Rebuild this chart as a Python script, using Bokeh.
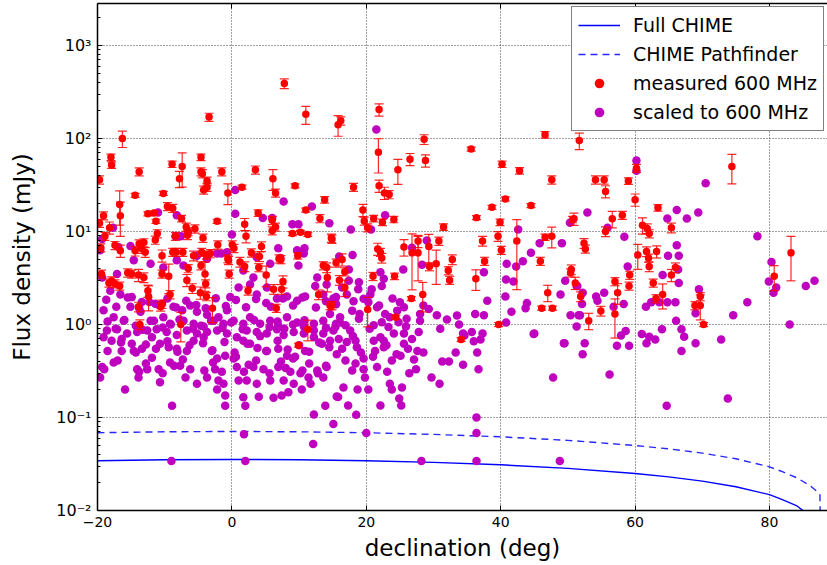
from bokeh.plotting import figure
from bokeh.models import (Range1d, FixedTicker, LinearAxis, CustomJSTickFormatter,
                          Legend, LegendItem, ColumnDataSource)
from bokeh.embed import file_html
from bokeh.resources import INLINE

# ---------------- sensitivity curves ----------------
full_dec = [-20, -10, 0, 10, 20, 30, 40, 50, 60, 65, 70, 75, 80, 82, 84, 86]
full_chime = [0.0343, 0.0351, 0.0354, 0.0351, 0.0343, 0.0329, 0.031, 0.0284, 0.025,
              0.023, 0.0207, 0.018, 0.0148, 0.013, 0.0113, 0.0088]
path_dec = [-20, -10, 0, 10, 20, 30, 40, 50, 60, 65, 70, 75, 80, 82, 84, 86, 87, 87.5, 87.6]
pathfinder = [0.0686, 0.0702, 0.0708, 0.0702, 0.0686, 0.0658, 0.062, 0.0568, 0.050,
              0.046, 0.0414, 0.036, 0.0295, 0.026, 0.0226, 0.0186, 0.0162, 0.0148, 0.005]

# ---------------- measured at 600 MHz (red, with error bars) ----------------
measured_dec = [
    -16.3, -3.4, 7.8, 11.0, 15.8, 16.2,
    -18.0, -17.9, -13.8, -8.9, -7.4, -4.6, -4.6, -4.4, -3.7, -1.5, 3.5, -7.8, -19.7, 6.1,
    21.9, 21.8, 24.7, 26.5, 28.8, 28.6, 35.6, 40.2, 42.8, 46.6, 51.7, 47.6,
    54.1, 55.4, 55.6, 59.0, 60.2, 60.0, 74.4,
    50.9, 56.6, 58.1, 55.6, 63.4, 65.4, 61.1, 61.8, 62.1,
    52.4, 52.6, 60.4, 61.7, 62.0, 63.2, 62.1, 66.0, 59.2, 65.4, 62.7, 59.1, 57.0, 57.4, 51.1, 51.9, 54.9, 64.1, 63.1,
    68.9, 69.7, 69.7, 80.7, 83.2, 70.2, 57.0, 53.1, 39.7, 34.1, 46.1, 47.7,
    18.1, 21.9, 22.7, 23.4, 19.5, 19.7, 20.2, 21.1, 22.4, 24.1, 14.9,
    21.7, 22.1, 22.3, 25.6, 26.8, 27.7, 27.7, 29.3, 30.8, 29.4, 30.4,
    32.8, 32.2, 32.4, 31.5, 36.4, 38.7, 40.7, 44.5, 39.9, 39.6, 40.1,
    37.3, 37.6, 36.3, 42.4, 46.6, 47.6, 45.9, 47.0, 50.5, 50.4, 50.7,
    24.2, 21.0, 28.4, 26.7, 24.4, 20.2,
    15.5, 16.4, 16.0, 16.8, 16.8, 14.9,
    -3.7, -4.2, -0.6, 1.5, 6.5, 9.4, 13.8, 11.0, 13.1, 14.8,
    9.0, 10.2, 11.3, 6.0, 6.0, 6.5, 3.9, 1.9, 2.1, -2.2, -7.5,
    -9.6, -8.8, -10.2, -14.4, -16.7, -16.6, -12.5, -11.6, -11.3, -19.1, -19.7, -18.9,
    -11.4, -11.1, -14.4, -13.5, -12.9, -13.8, -13.1, -16.6, -10.4,
    -8.4, -8.8, -8.3, -7.3, -6.5, -6.8, -6.6, -5.5, -4.3, -5.7, -4.5, -3.8, -3.2,
    -2.1, 0.05, 0.3, -0.5, -0.6, 1.2, 1.9, 2.9, 4.1, 4.4, 4.0, 7.0, 7.3, 5.1,
    6.2, 7.4, 7.6, 9.8, 13.6, 14.1, 14.2, 12.9, 14.6, 11.3, 9.9, 6.6, 2.4, -0.4,
    -2.9, -3.8, -4.0, -3.9, -4.7, -4.6, -6.7, -6.5, -5.9, -9.2, -9.4, -10.4,
    -12.4, -12.5, -10.6, -10.4, -13.9, -13.7, -7.6, -13.9, -13.1, -14.9, -15.5,
    -17.9, -17.4, -18.3, -16.7, -19.4, -19.5, -18.2, -17.4,
]
measured_flux = [
    100, 170, 390, 182, 141, 155,
    63, 52, 44, 53, 50, 63, 44, 42, 35, 44, 46, 37, 36, 37,
    205, 71, 46, 60, 58, 98, 77, 53, 45, 110, 95, 36,
    36, 36, 27, 35, 48, 22, 50,
    13.7, 13.7, 15, 10, 18, 11, 11.7, 10.8, 9.5,
    7.5, 6.5, 5.6, 6.1, 5.2, 6.1, 4.2, 4.1, 3.4, 3.4, 2.8, 2.6, 2.9, 2.2, 2.8, 2.0, 1.4, 2.1, 1.9,
    1.6, 1.6, 2.0, 3.3, 5.9, 1.0, 1.3, 1.1, 1.0, 0.69, 1.5, 1.5,
    30, 31, 26, 25, 17, 13, 11, 13.8, 12.6, 13.5, 8.3,
    6.5, 6.0, 5.2, 6.8, 5.9, 5.9, 7.9, 6.9, 7.9, 4.2, 4.5,
    5.0, 3.8, 3.0, 11.2, 14.1, 18.2, 22.4, 19.0, 12.6, 8.9, 6.3,
    7.9, 4.8, 3.1, 7.9, 8.7, 8.9, 4.8, 2.2, 3.9, 3.6, 13.5,
    3.3, 3.3, 2.1, 1.9, 1.2, 1.45,
    4.6, 5.0, 3.0, 3.7, 2.5, 1.6,
    30, 28, 26, 30, 26, 31, 22, 17, 13.8, 8.5,
    9.5, 9.8, 9.3, 13.2, 10.2, 11.2, 15.8, 12, 8.9, 12.9, 13.8,
    18.6, 17.8, 25.7, 24.5, 19.5, 14.8, 15.5, 15.8, 12.9, 14.8, 12.3, 8.9,
    8.1, 9.5, 6.2, 6.6, 6.0, 7.4, 7.6, 6.2, 5.5,
    8.9, 6.0, 6.0, 6.0, 10, 11.2, 9.1, 10.7, 8.5, 5.5, 6.0, 5.6, 5.8,
    7.2, 7.2, 6.6, 4.9, 5.1, 4.7, 4.2, 5.9, 5.4, 6.9, 4.1, 5.1, 5.0, 3.4,
    2.4, 2.4, 2.9, 5.5, 4.3, 4.1, 3.2, 2.1, 1.6, 0.89, 0.6, 1.5, 2.3, 3.5,
    1.5, 2.0, 3.5, 2.75, 2.2, 4.3, 3.0, 4.0, 2.45, 2.1, 3.3, 3.5,
    2.0, 2.3, 1.55, 1.66, 1.55, 1.0, 1.0, 3.4, 3.2, 3.5, 3.6,
    2.95, 2.75, 2.8, 2.6, 3.5, 6.7, 11, 7.1,
]
# fractional 1-sigma error of each measured point
measured_err = [
    0.2, 0.1, 0.12, 0.22, 0.25, 0.1,
    0.08, 0.08, 0.1, 0.08, 0.4, 0.08, 0.1, 0.1, 0.1, 0.1, 0.1, 0.2, 0.1, 0.25,
    0.15, 0.4, 0.3, 0.15, 0.15, 0.12, 0.05, 0.08, 0.08, 0.08, 0.2, 0.1,
    0.1, 0.1, 0.15, 0.08, 0.1, 0.15, 0.35,
    0.15, 0.2, 0.1, 0.12, 0.08, 0.12, 0.2, 0.12, 0.1,
    0.12, 0.1, 0.3, 0.12, 0.1, 0.15, 0.12, 0.12, 0.1, 0.15, 0.1, 0.1, 0.1, 0.25, 0.15, 0.12, 0.12, 0.3, 0.1,
    0.1, 0.3, 0.1, 0.3, 0.5, 0.05, 0.45, 0.2, 0.05, 0.05, 0.05, 0.05,
    0.1, 0.15, 0.15, 0.1, 0.15, 0.1, 0.1, 0.08, 0.08, 0.08, 0.1,
    0.15, 0.1, 0.12, 0.2, 0.6, 0.5, 0.15, 0.35, 0.1, 0.1, 0.4,
    0.12, 0.1, 0.1, 0.08, 0.05, 0.05, 0.05, 0.05, 0.08, 0.12, 0.1,
    0.12, 0.1, 0.25, 0.7, 0.08, 0.25, 0.1, 0.2, 0.12, 0.1, 0.08,
    0.08, 0.1, 0.35, 0.05, 0.05, 0.35,
    0.1, 0.15, 0.12, 0.1, 0.2, 0.1,
    0.1, 0.1, 0.25, 0.05, 0.1, 0.05, 0.08, 0.05, 0.1, 0.1,
    0.05, 0.05, 0.05, 0.1, 0.1, 0.1, 0.08, 0.15, 0.15, 0.05, 0.08,
    0.1, 0.1, 0.05, 0.05, 0.4, 0.4, 0.05, 0.05, 0.05, 0.1, 0.1, 0.1,
    0.1, 0.1, 0.12, 0.12, 0.12, 0.1, 0.1, 0.15, 0.15,
    0.1, 0.1, 0.1, 0.1, 0.1, 0.1, 0.1, 0.1, 0.1, 0.12, 0.1, 0.1, 0.1,
    0.1, 0.1, 0.1, 0.1, 0.1, 0.12, 0.12, 0.1, 0.12, 0.12, 0.1, 0.1, 0.1, 0.25,
    0.12, 0.12, 0.15, 0.08, 0.1, 0.12, 0.3, 0.12, 0.1, 0.25, 0.05, 0.1, 0.1, 0.1,
    0.3, 0.1, 0.35, 0.1, 0.15, 0.1, 0.15, 0.1, 0.12, 0.1, 0.35, 0.1,
    0.3, 0.15, 0.1, 0.1, 0.12, 0.12, 0.35, 0.15, 0.12, 0.1, 0.1,
    0.1, 0.1, 0.1, 0.1, 0.1, 0.1, 0.15, 0.1,
]

# ---------------- scaled to 600 MHz (magenta) ----------------
scaled_dec = [
    # high declination / bright
    21.5, 60.2, 60.2, 70.5, 52.9, 55.9, 58.4, 64.8, 66.2, 67.7, 69.4, 78.2, 66.2, 64.9, 66.5, 66.4, 58.9, 64.1,
    66.5, 51.4, 52.2, 54.2, 54.4, 55.4, 58.3, 56.8, 52.1, 62.4, 63.6, 64.8, 66.0, 61.6, 69.5, 76.7, 80.3, 79.9,
    81.0, 80.6, 85.4, 86.7, 83.0,
    51.3, 51.8, 52.5, 52.2, 56.2, 57.9, 58.6, 57.3, 59.1, 61.0, 61.7, 62.1, 63.0, 64.0, 66.1, 66.9, 67.3,
    66.9, 69.0, 69.0, 72.8, 74.6, 73.8, 64.7,
    # faint, mid declination
    28.2, 36.4, 48.8, 20.0, 36.4, 36.4, 18.5, 22.1, 25.2, 17.3, 15.8, 24.9, 18.7, 20.3, 16.6, 23.8, 25.3, 23.5,
    29.7, 30.9, 26.4, 27.4, 19.8, 36.7, 47.8, 34.4, 31.3, 32.3, 33.3, 36.5, 27.6, 28.5, 49.4, 44.9, 33.8, 37.3,
    34.6, 36.0, 37.0,
    16.9, 18.4, 19.6, 21.3, 22.6, 23.8, 25.1, 17.9, 19.6, 21.6, 23.1,
    19.2, 21.0, 23.0, 24.5, 26.2, 27.1, 18.0, 20.5, 23.5, 25.9, 19.0, 21.9,
    # southern cloud, below 0.75 mJy
    -19.1, -17.9, -16.4, -14.9, -14.6, -13.4, -11.9, -10.7, -9.4, -8.2, -6.7, -5.7, -4.2, -3.0, -2.2, -1.0,
    0.26, 1.7, 2.7, 4.2, 5.2, 6.9, 8.2, 9.4, 10.9, 12.2, 13.4, 14.6, 15.6,
    -19.3, -17.6, -16.4, -14.1, -12.6, -10.9, -9.2, -7.7, -6.2, -2.5, -1.5, 0.74, 3.2, 4.7, 6.9, 8.7, 10.2,
    11.4, 12.7, 14.1,
    -19.6, -13.9, -10.7, -6.9, -5.2, -3.7, -2.0, -1.25, 1.0, 2.2, 3.7, 5.7, 7.7, 9.2, 10.4, 11.7, 13.6,
    -15.9, -2.2, -1.0, 1.7, 4.0, 6.2, 7.4, 8.4, 15.6,
    -8.9, -1.0, 2.0, 12.2, 13.9,
    15.1, 1.8, 12.1, -9.0, 2.0,
    -18.5, -16.5, -14.3, -12.8, -11.3, -9.6, -8.1, -6.3, -4.3, -2.9, -1.1, 0.4, 2.3, 3.8, 5.1, 6.8, 8.3,
    10.0, 11.5, 13.0, 14.5,
    -19.0, -17.0, -13.8, -12.8, -11.9, -10.3, -8.6, -7.3, -4.1, -2.8, 0.6, 1.8, 2.5, 3.6, 5.6, 7.3, 8.0,
    9.1, 10.5, 11.5, 12.8, 14.0,
    # southern cloud, 0.75 - 7 mJy
    -16.9, -15.1, -19.6, -19.3, -18.1, -16.6, -14.9, -13.4, -11.4, -10.4, -8.7, -7.4, -6.2, -5.2, -3.7, -2.0,
    -0.74, -0.25, 1.0, 2.7, 3.7, 5.2, 6.7, 8.2, 9.7, 10.9, 12.4, 13.6, 15.1, 16.4,
    -19.1, -17.6, -16.1, -15.1, -13.6, -12.1, -10.2, -9.2, -7.2, -5.7, -4.2, -2.7, -1.25, 0.26, 1.7, 2.7,
    4.2, 5.7, 6.9, 8.2, 9.7, 10.7, 12.2, 13.6, 14.6, 16.1,
    -18.6, -17.1, -15.6, -14.1, -12.6, -11.2, -9.7, -8.2, -6.7, -5.2, -3.7, -2.2, -0.74, 0.74, 2.2, 3.7,
    5.2, 6.7, 7.7, 9.2, 10.7, 12.2, 13.6, 15.1,
    -17.1, -14.6, -12.1, -10.2, -8.2, -7.2, -5.2, -3.7, -2.2, -0.74, 1.7, 3.2, 3.7, 5.7, 6.9, 9.7, 9.9,
    10.7, 12.7, 14.1,
    -18.7, -17.2, -15.5, -13.8, -12.3, -10.8, -9.6, -8.3, -6.8, -5.3, -3.9, -2.4, -0.9, 0.6, 2.1, 3.6,
    5.1, 5.8, 7.6, 9.1, 10.5, 12.5, 14.0, 15.5,
    -18.5, -17.3, -16.0, -14.3, -13.3, -11.6, -10.3, -9.1, -7.8, -5.8, -4.6, -3.1, -1.4, -0.1, 1.6, 3.3,
    5.6, 6.8, 7.8, 9.1, 10.8, 14.0, 15.5,
    # upper scatter, south
    0.5, 7.7, 11.9, 14.5, 9.0, 9.9, 4.6, 0.5, -17.7, -19.3, -8.4, -7.6, -1.6, 0.0, -11.0, -8.2, -6.6, 6.0,
    10.8, 7.2,
    # dec 15-52 cloud
    15.97, 17.96, 17.4, 15.5, 17.4, 17.1, 18.9, 18.8, 18.1, 16.1, 17.9, 16.9, 15.4, 18.9, 17.6, 15.9, 17.1,
    18.4, 16.4, 18.6,
    22.1, 22.6, 22.3, 20.8, 25.5, 28.3, 29.0, 26.8, 23.9, 25.0, 25.6, 24.6, 22.8, 21.6, 20.3, 19.6, 20.6,
    24.8, 26.0, 28.0, 22.3, 21.1, 23.3, 27.8, 25.6, 24.1, 22.1, 21.1, 22.6, 25.6, 26.8, 28.5, 28.0, 29.3,
    30.5, 32.0, 33.5, 36.2, 37.5, 35.7, 34.4, 31.0, 37.5, 38.0,
    40.9, 42.3, 43.3, 41.9, 40.8, 40.7, 43.9, 43.7, 41.6, 40.8, 44.5, 45.8, 49.1, 50.3, 49.6, 51.3, 48.9,
    50.4, 51.6, 49.5, 45.0,
    17.7, 20.7, 22.8, 42.6,
]
scaled_flux = [
    125, 58, 45, 33, 16, 11, 8.8, 13.8, 17, 13.8, 16, 8.9, 7.1, 5.5, 5.5, 3.9, 4.2, 3.4,
    2.8, 2.6, 2.2, 2.0, 1.8, 2.2, 1.66, 1.55, 1.66, 1.74, 1.74, 1.74, 1.74, 1.55, 2.4, 1.74, 4.7, 2.9,
    2.5, 2.2, 2.6, 2.95, 1.0,
    0.95, 1.26, 0.63, 0.48, 0.29, 0.76, 0.85, 0.59, 0.59, 0.79, 0.63, 0.74, 0.69, 0.89, 1.1, 0.89, 0.74,
    0.52, 1.32, 0.63, 0.69, 1.26, 0.16, 0.134,
    0.034, 0.034, 0.034, 0.068, 0.068, 0.1, 0.107, 0.135, 0.135, 0.135, 0.166, 0.16, 0.2, 0.2, 0.21, 0.2, 0.21, 0.23,
    0.27, 0.23, 0.3, 0.33, 0.27, 0.33, 0.27, 0.37, 0.4, 0.4, 0.5, 0.5, 0.52, 0.5, 0.63, 0.79, 1.0, 0.8,
    0.76, 0.66, 0.69,
    0.41, 0.38, 0.43, 0.52, 0.67, 0.41, 0.46, 0.32, 0.33, 0.35, 0.31,
    0.5, 0.45, 0.6, 0.48, 0.55, 0.42, 0.75, 0.9, 1.2, 0.95, 1.3, 1.6,
    0.73, 0.67, 0.70, 0.62, 0.52, 0.55, 0.73, 0.62, 0.57, 0.55, 0.52, 0.67, 0.73, 0.52, 0.43, 0.46,
    0.43, 0.67, 0.62, 0.75, 0.52, 0.55, 0.46, 0.45, 0.52, 0.73, 0.62, 0.67, 0.48,
    0.35, 0.39, 0.52, 0.33, 0.33, 0.33, 0.39, 0.36, 0.33, 0.33, 0.31, 0.35, 0.35, 0.33, 0.35, 0.31, 0.30,
    0.27, 0.32, 0.35,
    0.27, 0.27, 0.24, 0.27, 0.23, 0.27, 0.25, 0.23, 0.25, 0.25, 0.23, 0.25, 0.25, 0.23, 0.20, 0.23, 0.27,
    0.20, 0.20, 0.172, 0.165, 0.167, 0.163, 0.172, 0.187, 0.168,
    0.134, 0.134, 0.134, 0.108, 0.134,
    0.085, 0.066, 0.052, 0.034, 0.034,
    0.52, 0.64, 0.5, 0.61, 0.55, 0.66, 0.51, 0.6, 0.63, 0.53, 0.65, 0.5, 0.62, 0.56, 0.52, 0.67, 0.54,
    0.6, 0.51, 0.64, 0.57,
    0.33, 0.41, 0.31, 0.38, 0.44, 0.3, 0.36, 0.42, 0.32, 0.39, 0.45, 0.31, 0.37, 0.41, 0.3, 0.4, 0.34,
    0.43, 0.32, 0.38, 0.3, 0.36,
    6.8, 7.0, 6.3, 3.2, 2.3, 2.1, 1.97, 1.75, 1.67, 1.67, 1.55, 1.42, 1.6, 1.37, 1.27, 1.2,
    1.42, 1.97, 2.5, 2.7, 2.1, 2.5, 1.9, 2.0, 1.8, 2.0, 2.6, 2.1, 1.9, 2.5,
    1.42, 1.2, 1.1, 1.55, 1.37, 1.1, 1.2, 1.02, 1.1, 1.02, 0.95, 1.1, 1.02, 1.1, 1.02, 1.2,
    1.02, 1.1, 0.97, 1.2, 1.05, 0.95, 1.02, 1.1, 1.3, 1.05,
    0.86, 0.89, 0.8, 0.83, 0.86, 0.89, 0.83, 0.77, 0.86, 0.8, 0.83, 0.86, 0.8, 0.73, 0.86, 0.83,
    0.8, 0.89, 0.77, 0.83, 0.8, 0.86, 0.8, 0.86,
    3.5, 4.9, 4.5, 4.1, 4.9, 4.3, 5.5, 5.1, 5.8, 6.0, 3.8, 3.2, 5.3, 4.5, 6.6, 6.3, 4.3,
    5.8, 3.2, 2.7,
    1.85, 1.55, 1.95, 1.5, 1.75, 1.6, 1.9, 1.52, 1.8, 1.62, 1.5, 1.92, 1.58, 1.84, 1.53, 1.88,
    1.7, 1.55, 1.9, 1.6, 1.95, 1.52, 1.78, 1.65,
    1.08, 0.9, 1.12, 0.97, 0.88, 1.1, 0.93, 1.0, 1.13, 0.9, 0.97, 1.1, 0.92, 1.05, 0.89, 1.12,
    0.94, 1.08, 0.9, 1.0, 1.11, 0.92, 1.02,
    28, 21, 18.6, 12.3, 12, 12, 14, 15.5, 11, 8.3, 8.9, 8.9, 5.8, 9.3, 16, 15, 9.5, 14,
    6.6, 5.2,
    5.4, 5.6, 3.9, 1.97, 2.95, 2.1, 2.85, 2.4, 1.78, 1.2, 1.41, 0.98, 0.94, 1.15, 0.86, 0.70, 0.65,
    0.67, 0.55, 0.57,
    3.65, 3.1, 2.6, 2.4, 3.9, 4.4, 8.0, 6.7, 1.9, 1.74, 1.53, 1.41, 1.3, 1.53, 1.74, 1.89, 2.1,
    1.06, 1.15, 1.1, 1.06, 0.98, 0.94, 0.83, 0.8, 0.8, 0.73, 0.67, 0.57, 0.62, 0.7, 1.6, 1.3, 1.47,
    1.26, 1.13, 1.25, 1.3, 1.26, 0.83, 0.8, 0.9, 3.65, 1.8,
    4.5, 4.2, 4.8, 2.9, 3.05, 2.0, 1.7, 1.5, 1.37, 1.05, 5.9, 7.5, 7.5, 12.4, 2.95, 2.6, 2.1,
    1.26, 1.26, 0.63, 0.8,
    10.5, 10.5, 15, 10.5,
]

x_ticks = [-20, 0, 20, 40, 60, 80]
y_ticks = [0.01, 0.1, 1, 10, 100, 1000]

FONT = "DejaVu Sans"
RED = "#ff0000"
MAGENTA = "#bf00bf"
BLUE = "#0000ff"

p = figure(width=827, height=565, y_axis_type="log",
           x_range=Range1d(-20, 88.63), y_range=Range1d(0.01, 2830),
           output_backend="svg", toolbar_location=None,
           min_border_left=97, min_border_right=0, min_border_top=3, min_border_bottom=55)
p.background_fill_color = "white"
p.border_fill_color = "white"
p.outline_line_color = None

xt = FixedTicker(ticks=x_ticks)
minor_y = [k * 10.0 ** e for e in range(-2, 4) for k in range(2, 10)]
yt = FixedTicker(ticks=y_ticks, minor_ticks=minor_y)

p.xaxis.ticker = xt
p.yaxis.ticker = yt
p.yaxis.formatter = CustomJSTickFormatter(code=r"""
const s = {"-":"\u207b","0":"\u2070","1":"\u00b9","2":"\u00b2","3":"\u00b3","4":"\u2074",
           "5":"\u2075","6":"\u2076","7":"\u2077","8":"\u2078","9":"\u2079"};
const e = Math.round(Math.log10(tick));
return "10" + String(e).split("").map(c => s[c]).join("");
""")

for ax in (p.xaxis[0], p.yaxis[0]):
    ax.axis_line_color = "black"
    ax.axis_line_width = 1.5
    ax.major_tick_in = 5
    ax.major_tick_out = 0
    ax.minor_tick_in = 3
    ax.minor_tick_out = 0
    ax.major_tick_line_color = "black"
    ax.minor_tick_line_color = "black"
    ax.major_label_text_font = FONT
    ax.major_label_text_color = "black"
    ax.axis_label_text_font = FONT
    ax.axis_label_text_font_size = "23px"
    ax.axis_label_text_font_style = "normal"
    ax.axis_label_text_color = "black"
    ax.major_label_standoff = 6
p.xaxis.major_label_text_font_size = "14px"
p.yaxis.major_label_text_font_size = "16px"

p.xaxis.axis_label = "declination (deg)"
p.yaxis.axis_label = "Flux density (mJy)"
p.xaxis.axis_label_standoff = 5
p.yaxis.axis_label_standoff = 18

top = LinearAxis(ticker=xt, formatter=CustomJSTickFormatter(code="return ''"),
                 axis_line_color="black", axis_line_width=1.5,
                 major_tick_in=5, major_tick_out=0, minor_tick_in=0, minor_tick_out=0,
                 major_label_standoff=0, major_label_text_font_size="1px")
p.add_layout(top, "above")

for g in (p.xgrid[0], p.ygrid[0]):
    g.grid_line_color = "black"
    g.grid_line_alpha = 0.75
    g.grid_line_dash = "1 2"
    g.grid_line_width = 1
p.ygrid.ticker = yt
p.xgrid.ticker = xt

# curves
r_full = p.line(full_dec, full_chime, line_color=BLUE, line_width=1.4)
r_path = p.line(path_dec, pathfinder, line_color=BLUE, line_width=1.4, line_dash="7 5", line_alpha=0.85)

# scaled points
r_scaled = p.scatter(scaled_dec, scaled_flux, size=8.5, fill_color=MAGENTA, line_color=None)

# measured points with error bars
lo = [f * (1 - e) for f, e in zip(measured_flux, measured_err)]
hi = [f * (1 + e) for f, e in zip(measured_flux, measured_err)]
src = ColumnDataSource(dict(x=measured_dec, y=measured_flux, lo=lo, hi=hi))
p.segment(x0="x", y0="lo", x1="x", y1="hi", source=src, line_color=RED, line_width=1.2, line_alpha=0.85)
p.scatter(x="x", y="lo", source=src, marker="dash", size=9, line_color=RED, line_width=1.2, line_alpha=0.85)
p.scatter(x="x", y="hi", source=src, marker="dash", size=9, line_color=RED, line_width=1.2, line_alpha=0.85)
r_meas = p.scatter(x="x", y="y", source=src, size=7.5, fill_color=RED, line_color=None)

legend = Legend(items=[
    LegendItem(label="Full CHIME", renderers=[r_full]),
    LegendItem(label="CHIME Pathfinder", renderers=[r_path]),
    LegendItem(label="measured 600 MHz", renderers=[r_meas]),
    LegendItem(label="scaled to 600 MHz", renderers=[r_scaled]),
], location=(474, 379))
legend.margin = 0
legend.padding = 6
legend.spacing = 5
legend.glyph_width = 42
legend.glyph_height = 24
legend.label_height = 24
legend.label_standoff = 13
legend.label_text_font = FONT
legend.label_text_font_size = "19px"
legend.label_text_color = "black"
legend.border_line_color = "black"
legend.border_line_width = 1
legend.background_fill_color = "white"
legend.background_fill_alpha = 1
p.add_layout(legend)

open("out.html", "w").write(file_html(p, INLINE))
